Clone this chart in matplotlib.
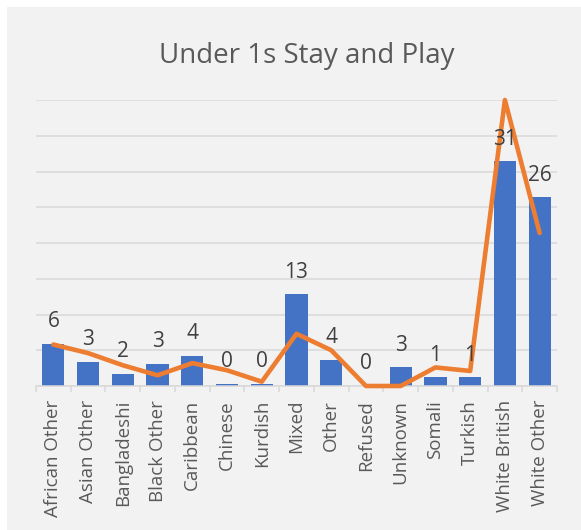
import matplotlib
matplotlib.use("Agg")
import matplotlib.pyplot as plt
from matplotlib.patches import Rectangle
import numpy as np

categories = ["African Other", "Asian Other", "Bangladeshi", "Black Other", "Caribbean",
              "Chinese", "Kurdish", "Mixed", "Other", "Refused", "Unknown", "Somali",
              "Turkish", "White British", "White Other"]
bar_values = [5.9, 3.4, 1.7, 3.1, 4.2, 0.3, 0.3, 12.8, 3.7, 0.0, 2.6, 1.2, 1.2, 31.4, 26.4]
line_values = [5.8, 4.6, 2.9, 1.5, 3.2, 2.2, 0.6, 7.3, 5.0, 0.0, 0.0, 2.6, 2.1, 40.0, 21.4]

plt.rcParams['font.family'] = ['Open Sans', 'DejaVu Sans']

fig = plt.figure(figsize=(5.81, 5.30), dpi=100)
fig.patch.set_facecolor('white')
fig.patches.append(Rectangle((7 / 581, 0), 1 - 7 / 581, 1 - 7 / 530,
                             transform=fig.transFigure, facecolor='#F2F2F2',
                             edgecolor='none', zorder=-10))

ax = fig.add_axes([36 / 581, 1 - 386 / 530, (557 - 36) / 581, (386 - 100) / 530])
ax.set_facecolor('none')
ax.set_zorder(5)

x = np.arange(len(categories))
bars = ax.bar(x, bar_values, width=0.64, color='#4472C4', zorder=2)
ax.plot(x, line_values, color='#ED7D31', linewidth=3.3, zorder=3,
        solid_joinstyle='round', solid_capstyle='round', clip_on=False)

for xi, v in zip(x, bar_values):
    ax.annotate(f"{v:.0f}", (xi, v), xytext=(0, 12), textcoords='offset points',
                ha='center', va='baseline', fontsize=15, color='#404040', zorder=4)

ax.set_xlim(-0.5, len(categories) - 0.5)
ax.set_ylim(0, 40)
ax.set_yticks(np.arange(0, 41, 5))
ax.yaxis.grid(True, color='#D9D9D9', linewidth=1.1)
ax.set_axisbelow(True)
ax.tick_params(axis='y', left=False, labelleft=False)

ax.set_xticks(x)
ax.set_xticklabels(categories, rotation=90, fontsize=13.5, color='#595959')
ax.set_xticks(np.arange(-0.5, len(categories), 1), minor=True)
ax.tick_params(axis='x', which='major', length=0, pad=10)
ax.tick_params(axis='x', which='minor', length=4, color='#D9D9D9', width=1.1)

for side in ['top', 'right', 'left']:
    ax.spines[side].set_visible(False)
ax.spines['bottom'].set_color('#D9D9D9')
ax.spines['bottom'].set_linewidth(1.1)

fig.text(307 / 581, 1 - 63 / 530, "Under 1s Stay and Play", ha='center', va='baseline',
         fontsize=20, color='#595959')

fig.savefig("out.png", dpi=100)
